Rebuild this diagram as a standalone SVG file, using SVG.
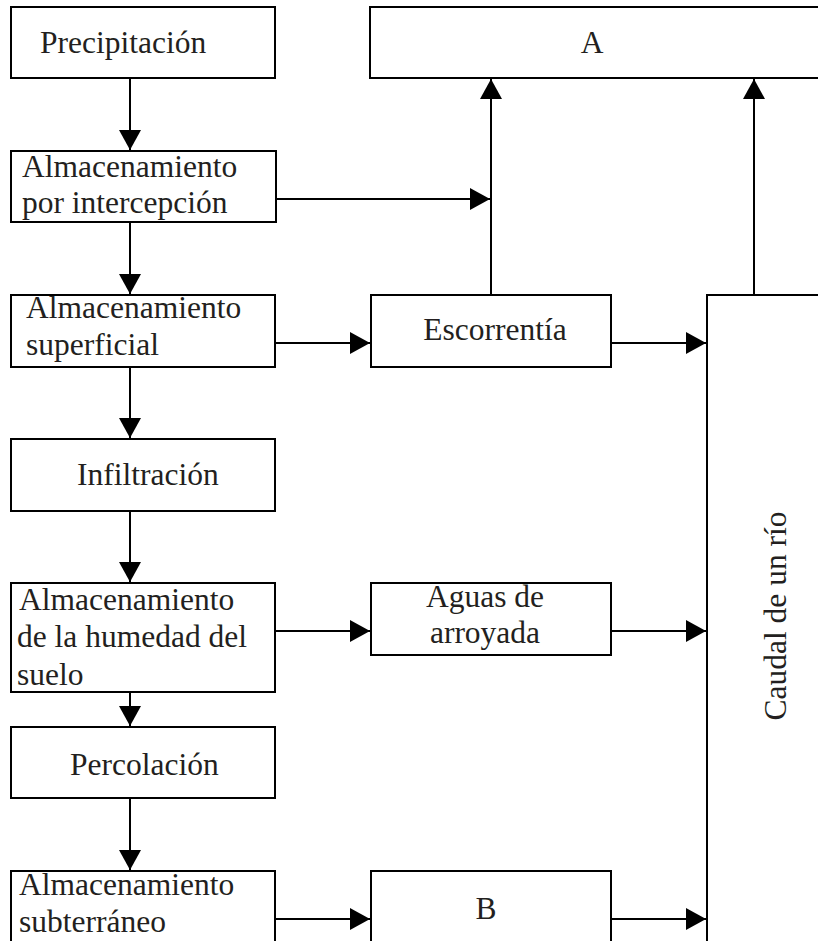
<svg xmlns="http://www.w3.org/2000/svg" width="818" height="941" viewBox="0 0 818 941">
<style>
.box{fill:#fff;stroke:#000;stroke-width:2}
.ln{fill:none;stroke:#000;stroke-width:2}
text{font-family:"Liberation Serif","Times New Roman",serif;font-size:31.5px;fill:#231f20}
.c{text-anchor:middle}
</style>
<defs>
<marker id="ah" viewBox="0 0 20 22" refX="20" refY="11" markerWidth="20" markerHeight="22" markerUnits="userSpaceOnUse" orient="auto">
<path d="M0,0 L20,11 L0,22 Z" fill="#000"/>
</marker>
</defs>
<rect width="818" height="941" fill="#fff"/>
<g id="connectors">
<line class="ln" x1="130" y1="78" x2="130" y2="150" marker-end="url(#ah)"/>
<line class="ln" x1="130" y1="222" x2="130" y2="294" marker-end="url(#ah)"/>
<line class="ln" x1="130" y1="367" x2="130" y2="438" marker-end="url(#ah)"/>
<line class="ln" x1="130" y1="511" x2="130" y2="582" marker-end="url(#ah)"/>
<line class="ln" x1="130" y1="692" x2="130" y2="726" marker-end="url(#ah)"/>
<line class="ln" x1="130" y1="798" x2="130" y2="870" marker-end="url(#ah)"/>
<line class="ln" x1="276" y1="199" x2="490" y2="199" marker-end="url(#ah)"/>
<line class="ln" x1="491" y1="295" x2="491" y2="79" marker-end="url(#ah)"/>
<line class="ln" x1="754" y1="295" x2="754" y2="79" marker-end="url(#ah)"/>
<line class="ln" x1="275" y1="343" x2="370" y2="343" marker-end="url(#ah)"/>
<line class="ln" x1="611" y1="343" x2="706" y2="343" marker-end="url(#ah)"/>
<line class="ln" x1="275" y1="631" x2="370" y2="631" marker-end="url(#ah)"/>
<line class="ln" x1="611" y1="631" x2="706" y2="631" marker-end="url(#ah)"/>
<line class="ln" x1="275" y1="919" x2="370" y2="919" marker-end="url(#ah)"/>
<line class="ln" x1="611" y1="919" x2="706" y2="919" marker-end="url(#ah)"/>
</g>
<g id="precipitacion">
<rect class="box" x="11" y="7" width="264" height="71"/>
<text x="40" y="53">Precipitación</text>
</g>
<g id="intercepcion">
<rect class="box" x="11" y="151" width="265" height="71"/>
<text x="22" y="177">Almacenamiento</text>
<text x="22" y="213">por intercepción</text>
</g>
<g id="superficial">
<rect class="box" x="11" y="295" width="264" height="72"/>
<text x="26" y="318">Almacenamiento</text>
<text x="26" y="355">superficial</text>
</g>
<g id="infiltracion">
<rect class="box" x="11" y="439" width="264" height="72"/>
<text x="77" y="485">Infiltración</text>
</g>
<g id="humedad">
<rect class="box" x="11" y="583" width="264" height="109"/>
<text x="19" y="610">Almacenamiento</text>
<text x="17" y="647">de la humedad del</text>
<text x="17" y="685">suelo</text>
</g>
<g id="percolacion">
<rect class="box" x="11" y="727" width="264" height="71"/>
<text x="70" y="775">Percolación</text>
</g>
<g id="subterraneo">
<rect class="box" x="11" y="871" width="264" height="90"/>
<text x="19" y="895">Almacenamiento</text>
<text x="19" y="932">subterráneo</text>
</g>
<g id="A">
<rect class="box" x="370" y="7" width="470" height="71"/>
<text class="c" x="592" y="53">A</text>
</g>
<g id="escorrentia">
<rect class="box" x="371" y="295" width="240" height="72"/>
<text class="c" x="495" y="340">Escorrentía</text>
</g>
<g id="aguas">
<rect class="box" x="371" y="583" width="240" height="72"/>
<text class="c" x="485" y="607">Aguas de</text>
<text class="c" x="485" y="643">arroyada</text>
</g>
<g id="B">
<rect class="box" x="371" y="871" width="240" height="90"/>
<text class="c" x="486" y="919">B</text>
</g>
<g id="caudal">
<rect class="box" x="707" y="295" width="140" height="670"/>
<text class="c" transform="translate(786,616) rotate(-90)">Caudal de un río</text>
</g>
</svg>
